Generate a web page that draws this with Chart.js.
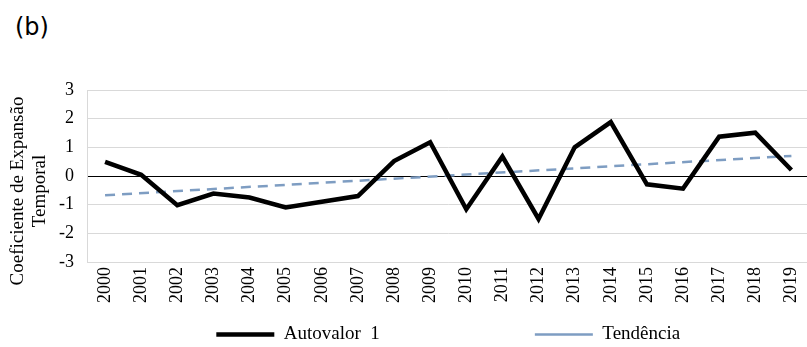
<!DOCTYPE html>
<html>
<head>
<meta charset="utf-8">
<script src="https://cdn.jsdelivr.net/npm/chart.js@4.4.0/dist/chart.umd.min.js"></script>
<style>
  html, body { margin: 0; padding: 0; background: #fff; overflow: hidden; }
  #wrap { position: absolute; left: 0; top: 0; width: 818px; height: 347px; }
  #tag { position: absolute; left: 15px; top: 13px; font: 24px "DejaVu Sans", sans-serif; color: #000; }
</style>
</head>
<body>
<div id="tag">(b)</div>
<div id="wrap"><canvas id="eofChart"></canvas></div>
<script>
const anos = ['2000','2001','2002','2003','2004','2005','2006','2007','2008','2009',
              '2010','2011','2012','2013','2014','2015','2016','2017','2018','2019'];
const autovalor1 = [0.49, 0.04, -1.02, -0.61, -0.75, -1.1, -0.9, -0.7, 0.52, 1.18,
                    -1.16, 0.68, -1.5, 1.0, 1.88, -0.29, -0.44, 1.37, 1.51, 0.21];
// tendência: só os extremos, a linha liga os dois
const tendencia = [-0.67, null, null, null, null, null, null, null, null, null,
                   null, null, null, null, null, null, null, null, null, 0.70];
const yTicks = [-3, -2, -1, 0, 1, 2, 3];
const tituloY = ['Coeficiente de Expansão', 'Temporal'];

const serif = '"Liberation Serif", "Times New Roman", serif';
const nb = (n) => '\u00a0'.repeat(n);

// título do eixo y desenhado à mão (o do Chart.js é comprimido ao tamanho do eixo)
const yTitlePlugin = {
    id: 'yTitle',
    afterDraw(chart) {
        const c = chart.ctx;
        const cy = chart.chartArea.top + (chart.chartArea.bottom - chart.chartArea.top) / 2 + 15;
        c.save();
        c.fillStyle = '#000';
        c.font = '19px ' + serif;
        c.textAlign = 'center';
        c.textBaseline = 'middle';
        tituloY.forEach((t, i) => {
            c.save();
            c.translate(18 + i * 22, cy);
            c.rotate(-Math.PI / 2);
            c.fillText(t, 0, 0);
            c.restore();
        });
        c.restore();
    }
};

const ctx = document.getElementById('eofChart').getContext('2d');

new Chart(ctx, {
    type: 'line',
    data: {
        labels: anos,
        datasets: [{
            label: 'Autovalor  1',
            data: autovalor1,
            borderColor: '#000',
            backgroundColor: '#000',
            borderWidth: 4.5,
            tension: 0,
            pointRadius: 0,
            order: 1
        }, {
            label: 'Tendência',
            data: tendencia,
            borderColor: '#7e9dc2',
            backgroundColor: '#7e9dc2',
            borderWidth: 2.5,
            borderDash: [10, 7],
            spanGaps: true,
            pointRadius: 0,
            order: 2
        }]
    },
    options: {
        responsive: true,
        maintainAspectRatio: false,
        animation: false,
        layout: {
            padding: { top: 90, left: 4, right: 0, bottom: -7 }
        },
        scales: {
            x: {
                offset: true,
                grid: { display: false, drawTicks: false },
                border: { color: '#d9d9d9' },
                ticks: {
                    color: '#000',
                    font: { family: serif, size: 18 },
                    maxRotation: 90,
                    minRotation: 90,
                    padding: 5,
                    autoSkip: false
                },
                afterFit: (s) => { s.height = 60; }
            },
            y: {
                min: -3,
                max: 3,
                afterBuildTicks: (s) => { s.ticks = yTicks.map(v => ({ value: v })); },
                afterFit: (s) => { s.width = 83; },
                grid: {
                    color: (c) => c.tick && c.tick.value === 0 ? '#000' : '#d9d9d9',
                    lineWidth: 1,
                    drawTicks: false
                },
                border: { color: '#d9d9d9' },
                ticks: {
                    color: '#000',
                    font: { family: serif, size: 18 },
                    padding: 13
                }
            }
        },
        plugins: {
            legend: {
                position: 'bottom',
                fullSize: false,
                labels: {
                    usePointStyle: true,
                    pointStyle: 'line',
                    pointStyleWidth: 58,
                    boxHeight: 4,
                    padding: 3,
                    color: '#000',
                    font: { family: serif, size: 19 },
                    generateLabels: (chart) => {
                        const items = Chart.defaults.plugins.legend.labels.generateLabels(chart);
                        items[0].text = items[0].text + nb(32);
                        items.forEach(it => { it.pointStyle = 'line'; });
                        return items;
                    }
                }
            },
            tooltip: { enabled: false }
        }
    },
    plugins: [yTitlePlugin]
});
</script>
</body>
</html>
